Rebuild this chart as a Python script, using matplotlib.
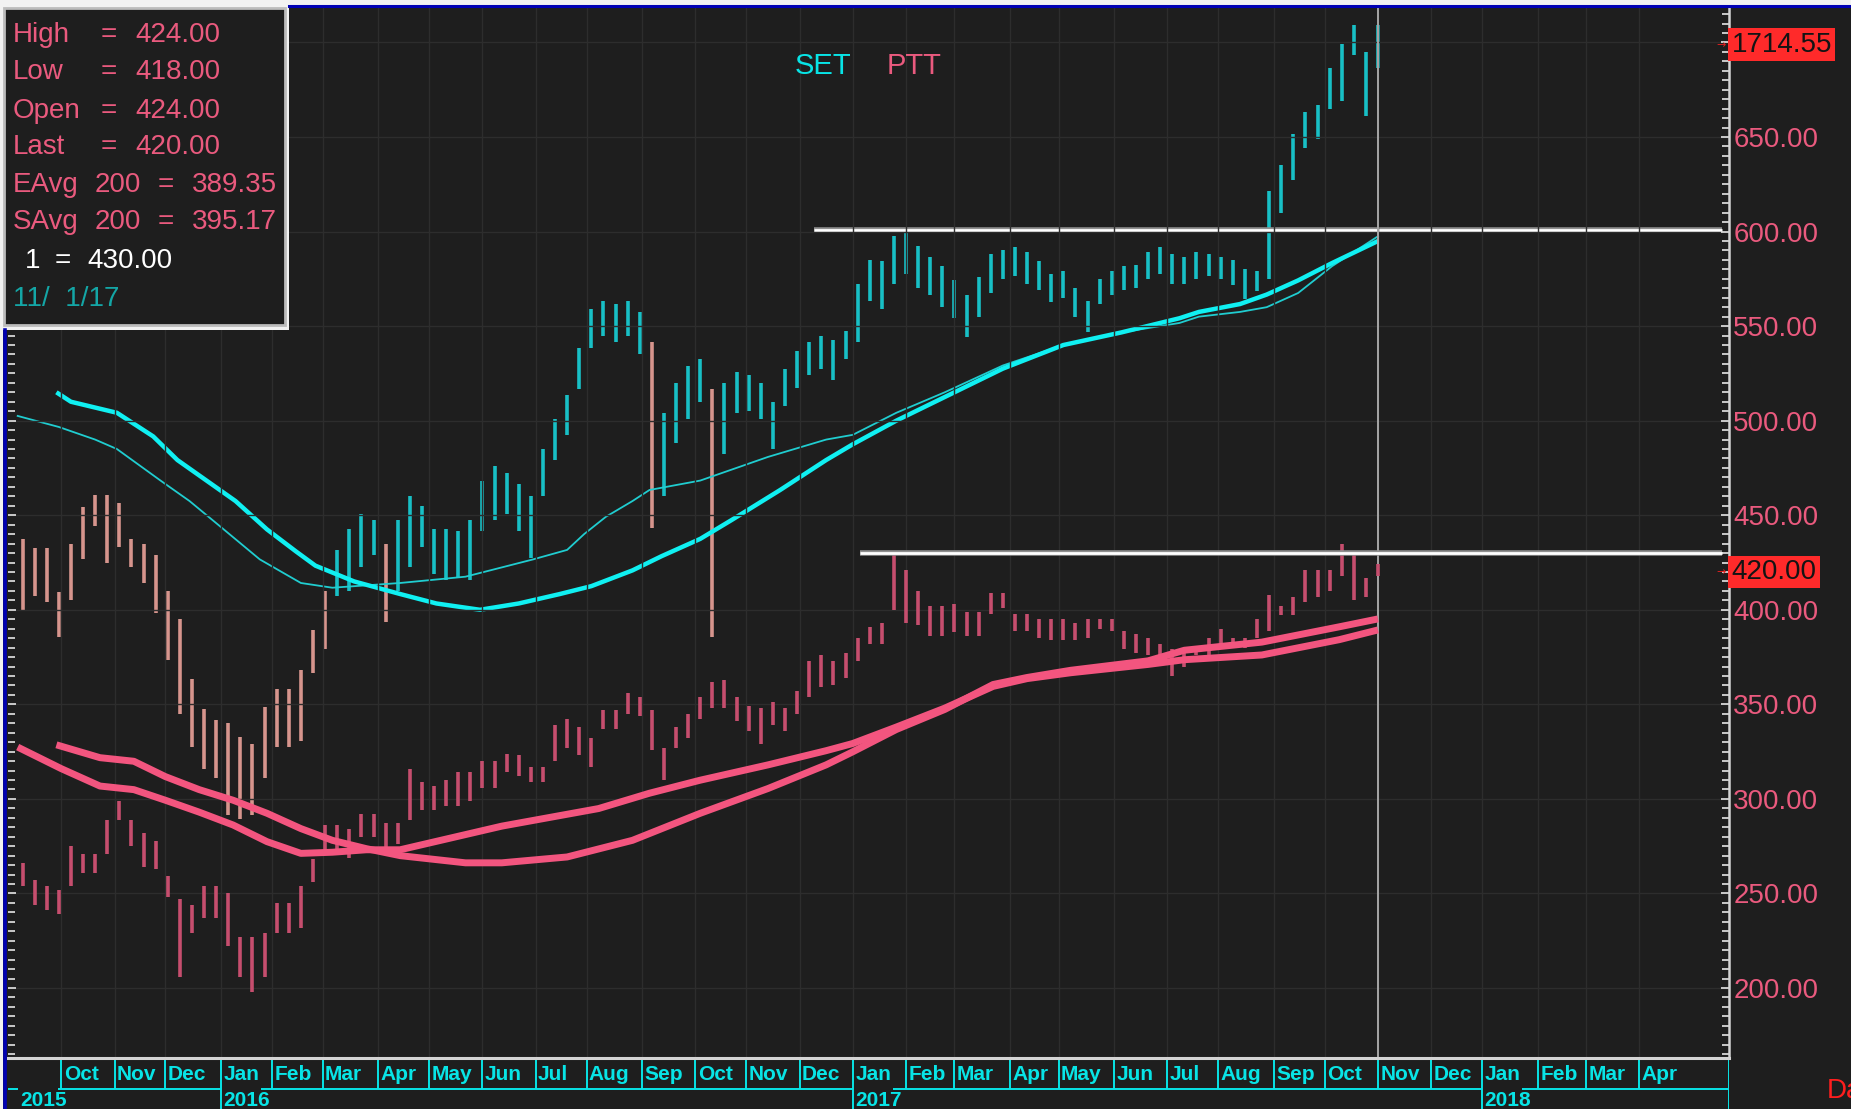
import numpy as np
import pandas as pd
import matplotlib
matplotlib.use("Agg")
import matplotlib.pyplot as plt
import matplotlib.transforms as mtransforms
from matplotlib import font_manager
from matplotlib.lines import Line2D
from matplotlib.patches import Rectangle
from matplotlib.ticker import MultipleLocator, FuncFormatter

# ---- weekly bars (first week starts Mon 2015-09-07, last bar 2017-11-01)
FIRST_WEEK = "2015-09-07"

SET_HIGH = [1401, 1395, 1395, 1367, 1398, 1421, 1429, 1429, 1424, 1401,
            1398, 1391, 1368, 1350, 1312, 1293, 1286, 1284, 1275, 1271,
            1294, 1306, 1306, 1318, 1343, 1368, 1394, 1407, 1417, 1413,
            1398, 1413, 1428, 1422, 1407, 1407, 1406, 1413, 1438, 1447,
            1443, 1436, 1428, 1458, 1477, 1492, 1522, 1547, 1552, 1550,
            1552, 1545, 1526, 1481, 1500, 1511, 1515, 1496, 1500, 1507,
            1505, 1500, 1488, 1509, 1520, 1526, 1530, 1527, 1533, 1563,
            1578, 1577, 1593, 1596, 1587, 1580, 1574, 1565, 1556, 1567,
            1582, 1584, 1586, 1583, 1577, 1569, 1571, 1560, 1552, 1566,
            1571, 1574, 1575, 1583, 1586, 1582, 1580, 1583, 1582, 1580,
            1578, 1572, 1571, 1622, 1638, 1658, 1672, 1676, 1700, 1715,
            1727, 1710, 1727]
SET_LOW = [1356, 1365, 1361, 1339, 1362, 1388, 1409, 1386, 1396, 1383,
           1373, 1354, 1324, 1290, 1269, 1255, 1249, 1226, 1223, 1226,
           1249, 1269, 1269, 1273, 1316, 1331, 1365, 1368, 1383, 1391,
           1348, 1368, 1383, 1396, 1379, 1375, 1376, 1375, 1406, 1413,
           1417, 1406, 1389, 1428, 1451, 1467, 1496, 1522, 1530, 1526,
           1530, 1518, 1408, 1428, 1462, 1477, 1488, 1339, 1455, 1481,
           1482, 1477, 1458, 1485, 1497, 1505, 1509, 1502, 1515, 1526,
           1552, 1547, 1563, 1569, 1560, 1556, 1548, 1541, 1529, 1542,
           1557, 1566, 1568, 1563, 1559, 1551, 1554, 1542, 1532, 1550,
           1556, 1559, 1560, 1566, 1569, 1563, 1563, 1566, 1568, 1566,
           1562, 1553, 1558, 1566, 1608, 1629, 1649, 1655, 1674, 1679,
           1708, 1669, 1700]
# weeks where SET is drawn in salmon (below its average)
SET_BELOW_AVG = list(range(0, 26)) + [30, 52, 57]

PTT_HIGH = [266, 257, 254, 252, 275, 271, 271, 289, 299, 289,
            282, 278, 259, 247, 244, 254, 254, 250, 227, 227,
            229, 245, 245, 254, 268, 286, 286, 284, 292, 292,
            287, 287, 316, 309, 307, 310, 314, 314, 320, 320,
            324, 323, 317, 317, 339, 342, 338, 332, 347, 347,
            356, 354, 347, 327, 338, 345, 354, 362, 363, 354,
            349, 348, 351, 348, 357, 373, 376, 373, 377, 385,
            391, 393, 430, 421, 410, 402, 402, 403, 399, 399,
            409, 409, 398, 398, 395, 395, 395, 393, 395, 395,
            395, 389, 387, 385, 382, 379, 380, 380, 385, 390,
            385, 385, 395, 408, 402, 407, 421, 421, 421, 435,
            429, 417, 424]
PTT_LOW = [254, 244, 241, 239, 254, 261, 261, 271, 289, 275,
           264, 263, 248, 206, 229, 237, 237, 222, 206, 198,
           206, 229, 229, 232, 256, 271, 271, 269, 280, 280,
           274, 276, 289, 294, 294, 296, 296, 299, 306, 306,
           314, 312, 309, 309, 320, 327, 323, 317, 337, 337,
           345, 344, 326, 310, 327, 332, 342, 348, 348, 341,
           336, 329, 339, 336, 345, 354, 359, 360, 364, 373,
           382, 382, 400, 393, 392, 386, 386, 388, 386, 386,
           398, 401, 389, 389, 385, 384, 384, 384, 385, 390,
           389, 379, 377, 376, 374, 365, 370, 376, 376, 380,
           380, 380, 385, 389, 397, 397, 404, 407, 410, 418,
           405, 407, 418]

# ---- 200-day averages
SET_EAVG_DATES = ["2015-09-07", "2015-09-30", "2015-10-21", "2015-11-03", "2015-11-27",
                  "2015-12-15", "2015-12-30", "2016-01-25", "2016-02-17", "2016-03-07",
                  "2016-04-14", "2016-05-23", "2016-06-30", "2016-07-20", "2016-07-29",
                  "2016-08-11", "2016-08-26", "2016-09-06", "2016-10-05", "2016-11-14",
                  "2016-12-16", "2017-01-02", "2017-01-26", "2017-02-23", "2017-03-29",
                  "2017-05-03", "2017-06-06", "2017-07-10", "2017-07-20", "2017-08-14",
                  "2017-08-29", "2017-09-15", "2017-10-05", "2017-11-01"]
SET_EAVG = [1479, 1472, 1464, 1458, 1438, 1425, 1411, 1388, 1373, 1370,
            1373, 1377, 1388, 1394, 1404, 1415, 1425, 1432, 1438, 1453,
            1464, 1467, 1481, 1494, 1511, 1524, 1532, 1538, 1542, 1545,
            1548, 1557, 1574, 1593]

SET_SAVG_DATES = ["2015-09-29", "2015-10-07", "2015-11-03", "2015-11-24", "2015-12-08",
                  "2015-12-24", "2016-01-11", "2016-01-28", "2016-02-15", "2016-02-25",
                  "2016-03-18", "2016-04-14", "2016-05-05", "2016-05-31", "2016-06-22",
                  "2016-07-15", "2016-08-03", "2016-08-26", "2016-09-13", "2016-10-05",
                  "2016-10-24", "2016-11-21", "2016-12-16", "2017-01-02", "2017-01-26",
                  "2017-02-23", "2017-03-29", "2017-05-03", "2017-06-06", "2017-07-10",
                  "2017-07-20", "2017-08-14", "2017-08-29", "2017-09-15", "2017-10-05",
                  "2017-11-01"]
SET_SAVG = [1494, 1488, 1481, 1466, 1451, 1438, 1425, 1407, 1393, 1384,
            1374, 1366, 1360, 1356, 1360, 1366, 1371, 1381, 1390, 1401,
            1413, 1432, 1451, 1461, 1476, 1491, 1509, 1524, 1532, 1541,
            1545, 1550, 1556, 1565, 1576, 1590]

PTT_EAVG_DATES = ["2015-09-07", "2015-10-01", "2015-10-23", "2015-11-12", "2015-12-01",
                  "2015-12-21", "2016-01-08", "2016-01-28", "2016-02-17", "2016-03-07",
                  "2016-03-25", "2016-04-14", "2016-06-13", "2016-08-08", "2016-09-06",
                  "2016-10-05", "2016-11-14", "2016-12-16", "2017-01-02", "2017-01-26",
                  "2017-02-23", "2017-03-23", "2017-04-12", "2017-05-08", "2017-06-21",
                  "2017-07-12", "2017-08-25", "2017-10-10", "2017-11-01"]
PTT_EAVG = [327.4, 316.0, 306.8, 304.9, 299.3, 293.0, 286.2, 277.4, 271.2, 271.8,
            273.1, 273.1, 285.6, 294.9, 303.0, 309.9, 318.0, 325.5, 329.3, 338.0,
            348.0, 359.5, 363.6, 366.7, 371.1, 373.6, 376.1, 384.2, 389.35]

PTT_SAVG_DATES = ["2015-09-29", "2015-10-23", "2015-11-12", "2015-12-01", "2015-12-21",
                  "2016-01-08", "2016-01-28", "2016-02-17", "2016-03-07", "2016-03-25",
                  "2016-04-14", "2016-05-23", "2016-06-13", "2016-07-20", "2016-08-26",
                  "2016-10-05", "2016-11-14", "2016-12-16", "2017-01-02", "2017-01-26",
                  "2017-02-23", "2017-03-23", "2017-04-12", "2017-05-08", "2017-06-21",
                  "2017-07-12", "2017-08-25", "2017-10-10", "2017-11-01"]
PTT_SAVG = [328.6, 321.8, 319.9, 311.8, 304.9, 299.3, 292.4, 284.3, 278.1, 273.7,
            270.0, 266.2, 266.2, 269.3, 278.1, 292.4, 305.5, 318.0, 324.9, 336.7,
            347.3, 360.5, 364.2, 368.0, 373.0, 378.6, 382.9, 391.0, 395.17]

SET_LAST = 1714.55
PTT_LAST = 420.00
PTT_INFO = [("High", "424.00"), ("Low", "418.00"), ("Open", "424.00"), ("Last", "420.00")]
LINE1 = 430.00          # PTT horizontal line
LINE1_START = "2017-01-05"
LINE2 = 1597.0          # SET horizontal line
LINE2_START = "2016-12-09"
LINE_END = "2018-05-18"
CURSOR = "2017-11-01"
MONTHS = pd.date_range("2015-10-01", "2018-04-01", freq="MS")

# ---- fonts / colours
names = {f.name for f in font_manager.fontManager.ttflist}
NARROW = "Liberation Sans Narrow" if "Liberation Sans Narrow" in names else "Liberation Sans"
FS = 24 if NARROW.endswith("Narrow") else 20
plt.rcParams["font.family"] = [NARROW, "DejaVu Sans"]

BG = "#1e1e1e"
GRID = "#2d2d2d"
CYAN_BAR = "#18c0c6"
SALMON_BAR = "#d7958d"
CYAN_THICK = "#10f0f2"
CYAN_THIN = "#20cdd0"
PINK_BAR = "#c64e6e"
PINK_AVG = "#f3557f"
PINK_TXT = "#ea5a7e"
CYAN_AX = "#08e4e6"

W, H = 1851, 1109
fig = plt.figure(figsize=(W / 100, H / 100), dpi=100, facecolor=BG)
L, R, B, T = 8 / W, 1729 / W, 51 / H, 1 - 8 / H

ax2 = fig.add_axes([L, B, R - L, T - B])   # SET scale
ax = ax2.twinx()                           # PTT scale, labels on the right
ax.set_zorder(ax2.get_zorder() + 1)
ax.patch.set_visible(False)
ax2.set_facecolor(BG)

days = pd.bdate_range("2015-09-07", "2018-06-29")


def pos(d):
    return days.searchsorted(pd.Timestamp(d))


XMIN, XMAX = -4, 707
ax2.set_xlim(XMIN, XMAX)
PTT_LIM = (163.0, 718.2)
ax.set_ylim(*PTT_LIM)
ax2.set_ylim(876 + 1.2 * PTT_LIM[0], 876 + 1.2 * PTT_LIM[1])

# grid
for y in range(200, 701, 50):
    ax.axhline(y, color=GRID, lw=1, zorder=0)
for m in MONTHS:
    ax.axvline(pos(m), color=GRID, lw=1, zorder=0)

weeks = pd.date_range(FIRST_WEEK, periods=len(SET_HIGH), freq="7D")
bar_x = np.array([pos(w) + 2 for w in weeks])

# SET
set_cols = [SALMON_BAR if i in SET_BELOW_AVG else CYAN_BAR for i in range(len(SET_HIGH))]
ax2.vlines(bar_x, SET_LOW, SET_HIGH, colors=set_cols, lw=2.6)
ax2.plot([pos(d) for d in SET_EAVG_DATES], SET_EAVG, color=CYAN_THIN, lw=1.3)
ax2.plot([pos(d) for d in SET_SAVG_DATES], SET_SAVG, color=CYAN_THICK, lw=3.2,
         solid_capstyle="butt")
ax2.hlines(LINE2, pos(LINE2_START), pos(LINE_END), color="#909090", lw=4.0)
ax2.hlines(LINE2, pos(LINE2_START), pos(LINE_END), color="white", lw=2.0)

# PTT
ax.vlines(bar_x, PTT_LOW, PTT_HIGH, colors=PINK_BAR, lw=2.6)
ax.plot([pos(d) for d in PTT_EAVG_DATES], PTT_EAVG, color=PINK_AVG, lw=5.0,
        solid_capstyle="butt")
ax.plot([pos(d) for d in PTT_SAVG_DATES], PTT_SAVG, color=PINK_AVG, lw=5.0,
        solid_capstyle="butt")
ax.hlines(LINE1, pos(LINE1_START), pos(LINE_END), color="#909090", lw=4.0)
ax.hlines(LINE1, pos(LINE1_START), pos(LINE_END), color="white", lw=2.0)

ax.axvline(pos(CURSOR), color="#a6a6a6", lw=1.4, zorder=1)

# axes / ticks
for a in (ax, ax2):
    for s in a.spines.values():
        s.set_visible(False)
    a.set_xticks([])
ax2.set_yticks([])
ax.spines["right"].set_visible(True)
ax.spines["right"].set_color("#d4d4d4")
ax.spines["right"].set_linewidth(1.8)
ax.spines["bottom"].set_visible(True)
ax.spines["bottom"].set_color("#d4d4d4")
ax.spines["bottom"].set_linewidth(2.2)

ax.yaxis.set_major_locator(MultipleLocator(50))
ax.yaxis.set_minor_locator(MultipleLocator(5))
ax.yaxis.set_major_formatter(FuncFormatter(lambda v, p: f"{v:.2f}" if 190 < v < 690 else ""))
ax.tick_params(axis="y", which="both", direction="in", color="#e6e6e6", width=1.2,
               left=True, right=True, labelleft=False, labelright=True,
               labelcolor=PINK_TXT, labelsize=FS, pad=3)
ax.tick_params(axis="y", which="major", length=6)
ax.tick_params(axis="y", which="minor", length=5)

# last value boxes
t_set = mtransforms.blended_transform_factory(ax.transAxes, ax2.transData)
t_ptt = mtransforms.blended_transform_factory(ax.transAxes, ax.transData)
for val, tr in ((SET_LAST, t_set), (PTT_LAST, t_ptt)):
    ax.text(1.0014, val, f"{val:.2f}", transform=tr, ha="left", va="center",
            fontsize=FS, color="#141414", clip_on=False, zorder=6,
            bbox=dict(boxstyle="square,pad=0.12", fc="#ff2a2a", ec="none"))
    ax.text(0.9955, val, "\u2192", transform=tr, ha="center", va="center",
            fontsize=8, color="#e02020", family="DejaVu Sans", clip_on=False, zorder=6)

# series names
fig.text(795 / W, 1 - 66 / H, "SET", color=CYAN_AX, fontsize=FS + 1, va="center")
fig.text(887 / W, 1 - 66 / H, "PTT", color=PINK_TXT, fontsize=FS + 1, va="center")

# info box
fig.add_artist(Rectangle((0, 1 - 330 / H), 289 / W, 330 / H, transform=fig.transFigure,
                         fc="#f2f2f2", ec="none", zorder=9))
fig.add_artist(Rectangle((4 / W, 1 - 325 / H), 281 / W, 317 / H, transform=fig.transFigure,
                         fc=BG, ec="#bcbcbc", lw=2.0, zorder=10))
rows = [[(lab, 13), ("=", 101), (v, 135)] for lab, v in PTT_INFO]
rows.append([("EAvg", 13), ("200", 95), ("=", 158), (f"{PTT_EAVG[-1]:.2f}", 192)])
rows.append([("SAvg", 13), ("200", 95), ("=", 158), (f"{PTT_SAVG[-1]:.2f}", 192)])
row_y = [35, 72, 111, 147, 185, 222]
for ry, row in zip(row_y, rows):
    for s, x in row:
        fig.text(x / W, 1 - ry / H, s, color=PINK_TXT, fontsize=FS, va="center", zorder=11)
for s, x in (("1", 25), ("=", 55), (f"{LINE1:.2f}", 87)):
    fig.text(x / W, 1 - 261 / H, s, color="white", fontsize=FS, va="center", zorder=11)
fig.text(13 / W, 1 - 299 / H, "11/  1/17", color="#14a6a6", fontsize=FS, va="center", zorder=11)

# frame borders
fig.add_artist(Rectangle((0, 1 - 5 / H), 1, 5 / H, transform=fig.transFigure,
                         fc="#f2f2f2", ec="none", zorder=8))
fig.add_artist(Rectangle((0, 0), 3 / W, 1, transform=fig.transFigure,
                         fc="#f2f2f2", ec="none", zorder=8))
fig.add_artist(Line2D([289 / W, 1], [1 - 6 / H] * 2, transform=fig.transFigure,
                      color="#0000b4", lw=2.2, zorder=9))
fig.add_artist(Line2D([5 / W] * 2, [0, 1 - 330 / H], transform=fig.transFigure,
                      color="#0000b4", lw=2.6, zorder=9))

# date strip
axd = fig.add_axes([L, 0, R - L, B])
axd.set_xlim(XMIN, XMAX)
axd.set_ylim(0, 1)
axd.axis("off")
LINE_Y = 0.39
for m in MONTHS:
    x0 = pos(m)
    axd.vlines(x0, 0 if m.month == 1 else LINE_Y, 1, color=CYAN_AX, lw=1.4)
    axd.text(x0 + 1.0, 0.68, m.strftime("%b"), color=CYAN_AX, fontsize=15,
             fontweight="bold", va="center", ha="left")
year_x = [0] + [pos(m) for m in MONTHS if m.month == 1]
year_lab = ["2015"] + [str(m.year) for m in MONTHS if m.month == 1]
for x0, lab in zip(year_x, year_lab):
    axd.text(x0 + 1.0, 0.17, lab, color=CYAN_AX, fontsize=15, fontweight="bold",
             va="center", ha="left")
seg_start = [XMIN] + [x + 16.5 for x in year_x]
seg_end = year_x + [XMAX]
axd.hlines([LINE_Y] * len(seg_start), seg_start, seg_end, color=CYAN_AX, lw=1.4)
axd.vlines(XMAX, 0, 1, color=CYAN_AX, lw=1.4)

fig.text(1827 / W, 1 - 1091 / H, "Date", color="#ff1e1e", fontsize=FS, va="center")

fig.savefig("out.png", dpi=100, facecolor=BG)
